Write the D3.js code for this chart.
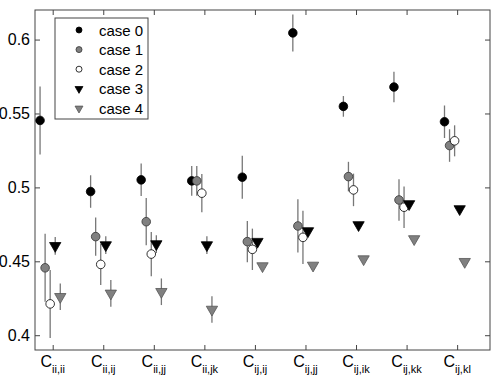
<!DOCTYPE html>
<html>
<head>
<meta charset="utf-8">
<script src="https://cdn.jsdelivr.net/npm/d3@7"></script>
<style>
  html, body { margin: 0; padding: 0; background: #fff; overflow: hidden; }
  svg { display: block; }
  text { font-family: "Liberation Sans", Arial, sans-serif; }
</style>
</head>
<body>
<script>
// subscripts of the C labels
const categories = [["ii","ii"],["ii","ij"],["ii","jj"],["ii","jk"],["ij","ij"],["ij","jj"],["ij","ik"],["ij","kk"],["ij","kl"]];
const caseNames = ["case 0", "case 1", "case 2", "case 3", "case 4"];
const yTicks = [0.4, 0.45, 0.5, 0.55, 0.6];

const case0 = [0.5453, 0.4972, 0.5051, 0.5044, 0.5069, 0.6045, 0.5548, 0.5679, 0.5444];
const err0  = [0.023, 0.011, 0.011, 0.010, 0.0145, 0.0125, 0.007, 0.0103, 0.011];
const case1 = [0.4456, 0.4667, 0.4768, 0.5044, 0.4633, 0.4739, 0.5073, 0.4915, 0.5283];
const err1  = [0.023, 0.013, 0.016, 0.010, 0.014, 0.018, 0.010, 0.014, 0.011];
const case2 = [0.4212, 0.4479, 0.4549, 0.4961, 0.4581, 0.4662, 0.4983, 0.4866, 0.5315];
const err2  = [0.023, 0.014, 0.015, 0.013, 0.014, 0.018, 0.011, 0.014, 0.0105];
const case3 = [0.4605, 0.4610, 0.4617, 0.4610, 0.4633, 0.4705, 0.4746, 0.4888, 0.4854];
const err3  = [0.006, 0.006, 0.006, 0.006, 0.001, 0.001, 0.001, 0.001, 0.001];
const case4 = [0.4260, 0.4283, 0.4294, 0.4174, 0.4468, 0.4472, 0.4515, 0.4651, 0.4497];
const err4  = [0.009, 0.009, 0.009, 0.009, 0.001, 0.001, 0.001, 0.001, 0.001];

const series = [
  { vals: case0, errs: err0, shape: "circle",   fill: "#000",  stroke: "#000" },
  { vals: case1, errs: err1, shape: "circle",   fill: "#808080", stroke: "#333" },
  { vals: case2, errs: err2, shape: "circle",   fill: "#fff",  stroke: "#000" },
  { vals: case3, errs: err3, shape: "triangle", fill: "#000",  stroke: "#000" },
  { vals: case4, errs: err4, shape: "triangle", fill: "#808080", stroke: "#555" }
];
const offsets = [-0.25, -0.15, -0.05, 0.05, 0.15];

const width = 492, height = 378;
const margin = { top: 10, right: 2, bottom: 28, left: 35 };
const innerWidth = width - margin.left - margin.right;
const innerHeight = height - margin.top - margin.bottom;

const svg = d3.select('body').append('svg')
  .attr('width', width)
  .attr('height', height);

const g = svg.append('g')
  .attr('transform', `translate(${margin.left}, ${margin.top})`);

const xScale = d3.scaleLinear()
  .domain([0.65, 9.65])
  .range([0, innerWidth]);

const yScale = d3.scaleLinear()
  .domain([0.39, 0.62])
  .range([innerHeight, 0]);

const axisStyle = AxisG => {
  AxisG.select('.domain').remove();
  AxisG.selectAll('line').attr('stroke', '#444');
  AxisG.selectAll('text')
    .attr('font-size', 16)
    .attr('fill', '#000')
    .style('font-family', '"Liberation Sans", Arial, sans-serif');
};
// ticks only, no labels
const bareTicks = AxisG => {
  axisStyle(AxisG);
  AxisG.selectAll('text').remove();
};

const xTickVals = categories.map((d, i) => i + 1);

g.append('g')
  .attr('transform', `translate(0, ${innerHeight})`)
  .call(d3.axisBottom(xScale).tickValues(xTickVals).tickSize(-5))
  .call(bareTicks);
g.append('g')
  .call(d3.axisTop(xScale).tickValues(xTickVals).tickSize(-5))
  .call(bareTicks);
g.append('g')
  .call(d3.axisLeft(yScale).tickValues(yTicks).tickSize(-5).tickPadding(5)
    .tickFormat(d => d3.format('')(+d.toFixed(2))))
  .call(axisStyle);
g.append('g')
  .attr('transform', `translate(${innerWidth}, 0)`)
  .call(d3.axisRight(yScale).tickValues(yTicks).tickSize(-5))
  .call(bareTicks);

g.append('rect')
  .attr('width', innerWidth)
  .attr('height', innerHeight)
  .attr('fill', 'none')
  .attr('stroke', '#444')
  .attr('stroke-width', 1);

// category labels C with subscripts
const labels = g.selectAll('.xlabel').data(categories).enter().append('text')
  .attr('class', 'xlabel')
  .attr('x', (d, i) => xScale(i + 1))
  .attr('y', innerHeight + 17)
  .attr('text-anchor', 'middle');
labels.append('tspan').attr('font-size', 16).text('C');
labels.append('tspan').attr('font-size', 11).attr('dy', 6).text(d => d[0] + ',' + d[1]);

// error bars
series.forEach((s, si) => {
  g.selectAll(`.err${si}`).data(s.vals).enter().append('line')
    .attr('class', `err${si}`)
    .attr('x1', (d, i) => xScale(i + 1 + offsets[si]))
    .attr('x2', (d, i) => xScale(i + 1 + offsets[si]))
    .attr('y1', (d, i) => yScale(d - s.errs[i]))
    .attr('y2', (d, i) => yScale(d + s.errs[i]))
    .attr('stroke', '#777')
    .attr('stroke-width', 1.3);
});

const drawMarker = (sel, s, r) => {
  if (s.shape === 'circle') {
    sel.append('circle').attr('r', r);
  } else {
    sel.append('path').attr('d', d3.symbol().type(d3.symbolTriangle).size(r * r * 3)())
      .attr('transform', 'rotate(180)');
  }
  sel.selectAll('circle, path')
    .attr('fill', s.fill)
    .attr('stroke', s.stroke)
    .attr('stroke-width', 0.8);
};

series.forEach((s, si) => {
  g.selectAll(`.pt${si}`).data(s.vals).enter().append('g')
    .attr('class', `pt${si}`)
    .attr('transform', (d, i) => `translate(${xScale(i + 1 + offsets[si])}, ${yScale(d)})`)
    .each(function() { drawMarker(d3.select(this), s, 4.3); });
});

// legend
const legend = svg.append('g').attr('transform', 'translate(55, 18)');
legend.append('rect')
  .attr('width', 93)
  .attr('height', 101)
  .attr('fill', '#fff')
  .attr('stroke', '#444');
caseNames.forEach((name, i) => {
  const row = legend.append('g').attr('transform', `translate(0, ${12 + i * 19.6})`);
  const m = row.append('g').attr('transform', 'translate(24, 0)');
  drawMarker(m, series[i], 3);
  row.append('text')
    .attr('x', 44)
    .attr('y', 5.5)
    .attr('font-size', 15)
    .text(name);
});
</script>
</body>
</html>
